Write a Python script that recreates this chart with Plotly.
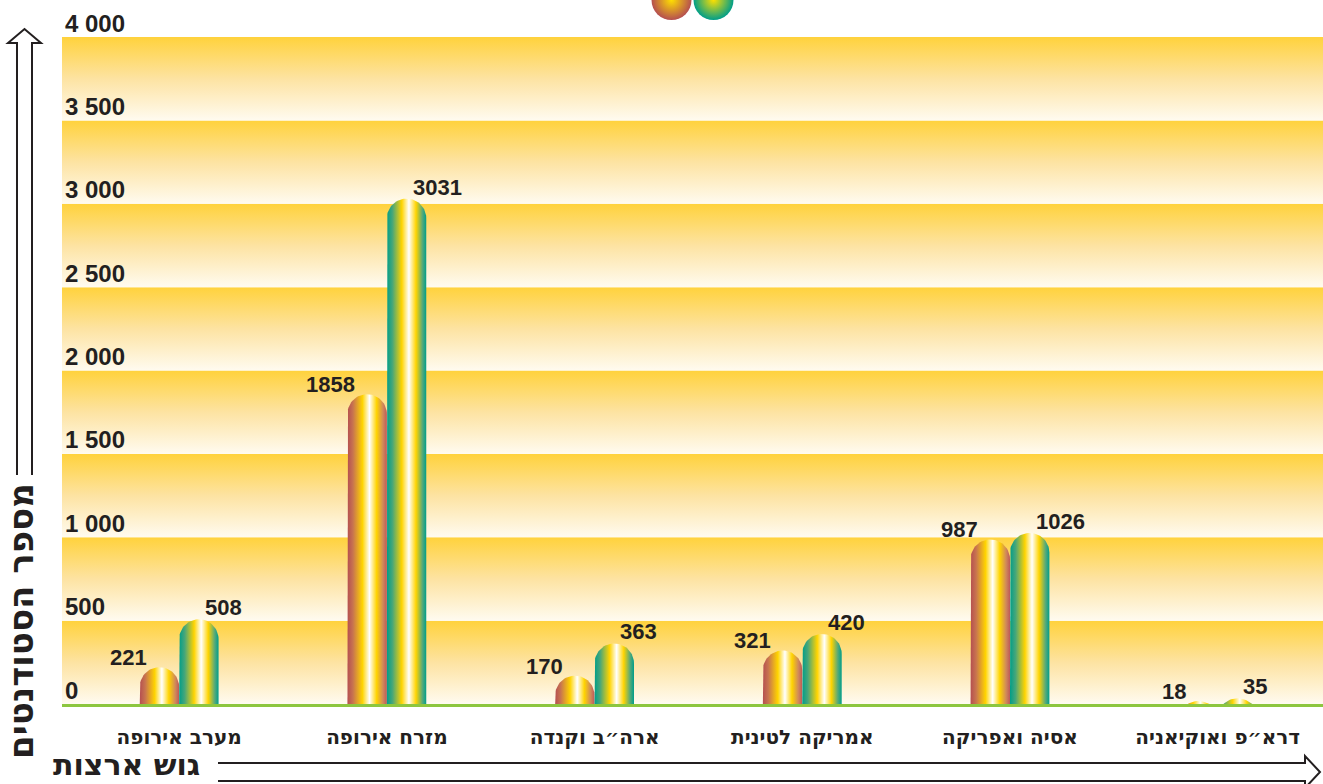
import numpy as np
import plotly.graph_objects as go

# data
categories = ["מערב אירופה", "מזרח אירופה", "ארה״ב וקנדה",
              "אמריקה לטינית", "אסיה ואפריקה", "דרא״פ ואוקיאניה"]
series_a = [221, 1858, 170, 321, 987, 18]
series_b = [508, 3031, 363, 420, 1026, 35]
y_ticks = [0, 500, 1000, 1500, 2000, 2500, 3000, 3500, 4000]

y_title = "מספר הסטודנטים"
x_title = "גוש ארצות"

FONT = "Liberation Sans, Arial, sans-serif"
FONT_HE = "DejaVu Sans, sans-serif"
TEXT = "#231F20"

# page / plot geometry (pixels)
W, H = 1323, 784
M_L, M_R, M_T, M_B = 62, 0, 0, 80
PLOT_W = W - M_L - M_R
PLOT_H = H - M_T - M_B
PX_Y = 667 / 4000          # 4000 sits 37px below the top of the page
X_RANGE = [-0.564, 5.507]
Y_RANGE = [0, PLOT_H / PX_Y]
PX_X = PLOT_W / (X_RANGE[1] - X_RANGE[0])

BAR_HALF = 19.7 / PX_X
OFFSET = 19.7 / PX_X

RED_SCALE = [[0, "#B54F50"], [0.14, "#C8744F"], [0.38, "#FFD400"], [0.56, "#FFFFFF"],
             [0.74, "#FFD400"], [0.9, "#D08A5A"], [1, "#BE5858"]]
TEAL_SCALE = [[0, "#009E88"], [0.14, "#46A67A"], [0.38, "#FFD400"], [0.56, "#FFFFFF"],
              [0.74, "#FFD400"], [0.9, "#58AA78"], [1, "#009E8A"]]
BAND_SCALE = [[0, "#FFFBF0"], [0.5, "#FDE3A2"], [1, "#FFD23C"]]


def px_to_paper_x(p):
    return (p - M_L) / PLOT_W


def px_to_paper_y(p):
    return (H - M_B - p) / PLOT_H


def capsule(center, top):
    # rounded-top bar whose dome peak sits at the value
    ry = BAR_HALF * PX_X / PX_Y
    yb = top - ry
    theta = np.linspace(np.pi, 0, 41)
    xs = [center - BAR_HALF, center - BAR_HALF] + list(center + BAR_HALF * np.cos(theta)) + \
         [center + BAR_HALF, center + BAR_HALF]
    ys = [0, yb] + list(yb + ry * np.sin(theta)) + [yb, 0]
    ys = list(np.maximum(ys, 0))
    return xs, ys


def create_figure():
    fig = go.Figure()

    # gold-to-white horizontal bands
    for lo, hi in zip(y_ticks[:-1], y_ticks[1:]):
        fig.add_trace(go.Scatter(
            x=[X_RANGE[0], X_RANGE[1], X_RANGE[1], X_RANGE[0], X_RANGE[0]],
            y=[lo, lo, hi, hi, lo], mode="lines", fill="toself",
            line=dict(width=0), fillgradient=dict(type="vertical", colorscale=BAND_SCALE),
            hoverinfo="skip", showlegend=False))

    for i, (a, b) in enumerate(zip(series_a, series_b)):
        for val, shift, scale in ((a, -OFFSET, RED_SCALE), (b, OFFSET, TEAL_SCALE)):
            xs, ys = capsule(i + shift, val)
            fig.add_trace(go.Scatter(
                x=xs, y=ys, mode="lines", fill="toself", line=dict(width=0),
                fillgradient=dict(type="horizontal", colorscale=scale),
                hoverinfo="skip", showlegend=False))

    # legend balls at the top centre, half cut by the page edge
    mid = (X_RANGE[0] + X_RANGE[1]) / 2
    fig.add_trace(go.Scatter(
        x=[mid - 21 / PX_X, mid + 21 / PX_X], y=[Y_RANGE[1]] * 2,
        mode="markers", cliponaxis=False, hoverinfo="skip", showlegend=False,
        marker=dict(size=40, color=["#B54F50", "#009E88"], line=dict(width=0),
                    gradient=dict(type="radial", color="#FFE000"))))

    annotations = []
    for i, (a, b) in enumerate(zip(series_a, series_b)):
        annotations.append(dict(x=i - OFFSET, y=a, text=str(a), showarrow=False,
                                xanchor="right", yanchor="bottom", xshift=-10, yshift=-5,
                                font=dict(size=22, color=TEXT, family=FONT, weight="bold")))
        annotations.append(dict(x=i + OFFSET, y=b, text=str(b), showarrow=False,
                                xanchor="left", yanchor="bottom", xshift=4, yshift=-3,
                                font=dict(size=22, color=TEXT, family=FONT, weight="bold")))

    annotations.append(dict(xref="paper", yref="paper", x=px_to_paper_x(21), y=px_to_paper_y(621),
                            text=y_title, textangle=-90, showarrow=False,
                            xanchor="center", yanchor="middle",
                            font=dict(size=34, color=TEXT, family=FONT_HE, weight="bold")))
    annotations.append(dict(xref="paper", yref="paper", x=px_to_paper_x(126), y=px_to_paper_y(745),
                            text=x_title, showarrow=False, xanchor="center", yanchor="top",
                            font=dict(size=30, color=TEXT, family=FONT_HE, weight="bold")))

    def path(points):
        return "M " + " L ".join("%.5f,%.5f" % (px_to_paper_x(x), px_to_paper_y(y)) for x, y in points)

    up_arrow = [(17, 475), (17, 43), (8, 43), (24.5, 29), (41, 43), (32, 43), (32, 475)]
    right_arrow = [(218, 763), (1305, 763), (1305, 756), (1320, 772), (1305, 788),
                   (1305, 781), (218, 781)]
    shapes = []
    for pts in (up_arrow, right_arrow):
        shapes.append(dict(type="path", xref="paper", yref="paper", path=path(pts),
                           line=dict(color=TEXT, width=2), fillcolor="rgba(0,0,0,0)"))

    fig.update_layout(
        width=W, height=H, autosize=False,
        margin=dict(l=M_L, r=M_R, t=M_T, b=M_B, pad=0),
        paper_bgcolor="white", plot_bgcolor="white",
        separators=". ",
        font=dict(family=FONT, color=TEXT),
        annotations=annotations, shapes=shapes,
        xaxis=dict(range=X_RANGE, tickvals=list(range(len(categories))), ticktext=categories,
                   showgrid=False, zeroline=False, ticks="", showline=True,
                   linecolor="#8DC63F", linewidth=3, ticklabelstandoff=13,
                   tickfont=dict(size=20, color=TEXT, family=FONT_HE, weight="bold"),
                   fixedrange=True),
        yaxis=dict(range=Y_RANGE, tickvals=y_ticks, tickformat=",d", showgrid=False,
                   zeroline=False, ticks="", showline=False, ticklabelposition="inside top",
                   ticklabeloverflow="allow", ticklabelshift=3,
                   tickfont=dict(size=24, color=TEXT, family=FONT, weight="bold"),
                   fixedrange=True),
    )
    return fig


if __name__ == '__main__':
    fig = create_figure()
    fig.write_html("out.html", config={"displayModeBar": False},
                   post_script="document.body.style.margin='0';")
